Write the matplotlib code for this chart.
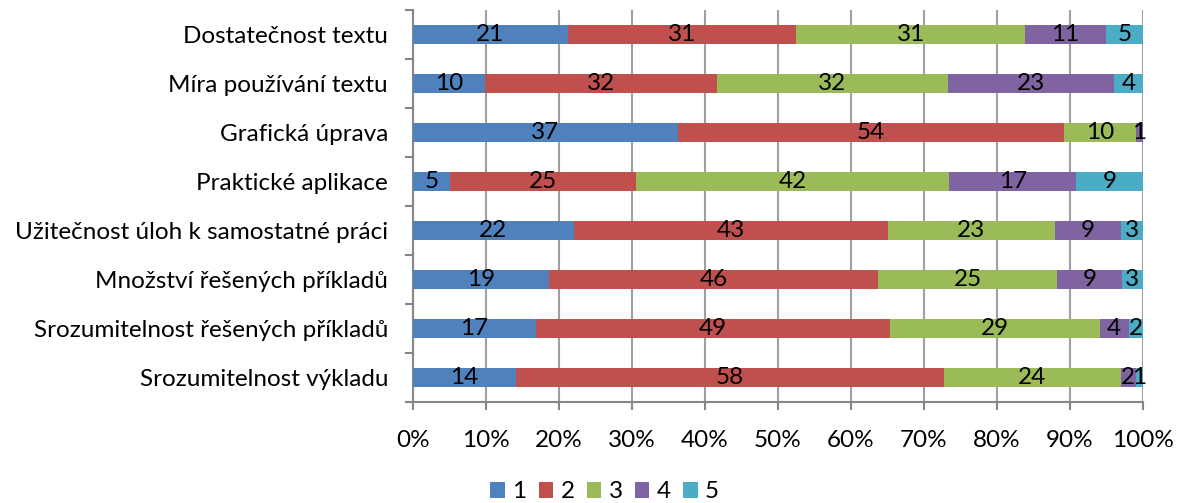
import matplotlib.pyplot as plt
import numpy as np
from matplotlib.ticker import PercentFormatter

plt.rcParams['font.family'] = ['Lato', 'DejaVu Sans']

# kategorie odshora dolu
categories = [
    'Dostatečnost textu',
    'Míra používání textu',
    'Grafická úprava',
    'Praktické aplikace',
    'Užitečnost úloh k samostatné práci',
    'Množství řešených příkladů',
    'Srozumitelnost řešených příkladů',
    'Srozumitelnost výkladu',
]
series_names = ['1', '2', '3', '4', '5']
s1 = [21, 10, 37, 5, 22, 19, 17, 14]
s2 = [31, 32, 54, 25, 43, 46, 49, 58]
s3 = [31, 32, 10, 42, 23, 25, 29, 24]
s4 = [11, 23, 1, 17, 9, 9, 4, 2]
s5 = [5, 4, 0, 9, 3, 3, 2, 1]
colors = ['#4F81BD', '#C0504D', '#9BBB59', '#8064A2', '#4BACC6']

counts = np.array([s1, s2, s3, s4, s5], dtype=float)
shares = counts / counts.sum(axis=0) * 100  # 100% stacked

fs = 17.5
fig = plt.figure(figsize=(11.81, 5.03), dpi=100)
ax = fig.add_axes([413 / 1181, 1 - 402 / 503, (1143 - 413) / 1181, (402 - 10) / 503])

y = np.arange(len(categories))[::-1]
left = np.zeros(len(categories))
for k in range(len(series_names)):
    bars = ax.barh(y, shares[k], left=left, height=0.4, color=colors[k],
                   label=series_names[k], zorder=3)
    for i, b in enumerate(bars):
        if counts[k, i] > 0:
            ax.text(left[i] + shares[k, i] / 2, y[i], '%d' % counts[k, i],
                    ha='center', va='center', fontsize=fs, color='black', zorder=4)
    left += shares[k]

ax.set_xlim(0, 100)
ax.set_ylim(-0.5, len(categories) - 0.5)
ax.set_xticks(np.arange(0, 101, 10))
ax.xaxis.set_major_formatter(PercentFormatter(decimals=0))
ax.set_yticks(y)
ax.set_yticklabels(categories)
ax.set_yticks(np.arange(-0.5, len(categories), 1), minor=True)
ax.tick_params(axis='y', which='major', length=0, pad=18, labelsize=fs)
ax.tick_params(axis='y', which='minor', length=6, width=1.5, color='#868686')
ax.tick_params(axis='x', length=6, width=1.5, color='#868686', labelsize=fs, pad=14)
ax.grid(True, axis='x', color='#A0A0A0', lw=1.5, zorder=0)

for s in ['top', 'right']:
    ax.spines[s].set_visible(False)
for s in ['left', 'bottom']:
    ax.spines[s].set_color('#868686')
    ax.spines[s].set_linewidth(1.5)

fig.legend(loc='center', bbox_to_anchor=(0.512, 1 - 492 / 503), ncol=5, frameon=False,
           fontsize=fs, handlelength=0.6, handleheight=0.6, handletextpad=0.3,
           columnspacing=0.5, borderpad=0)

fig.savefig('out.png', dpi=100)
